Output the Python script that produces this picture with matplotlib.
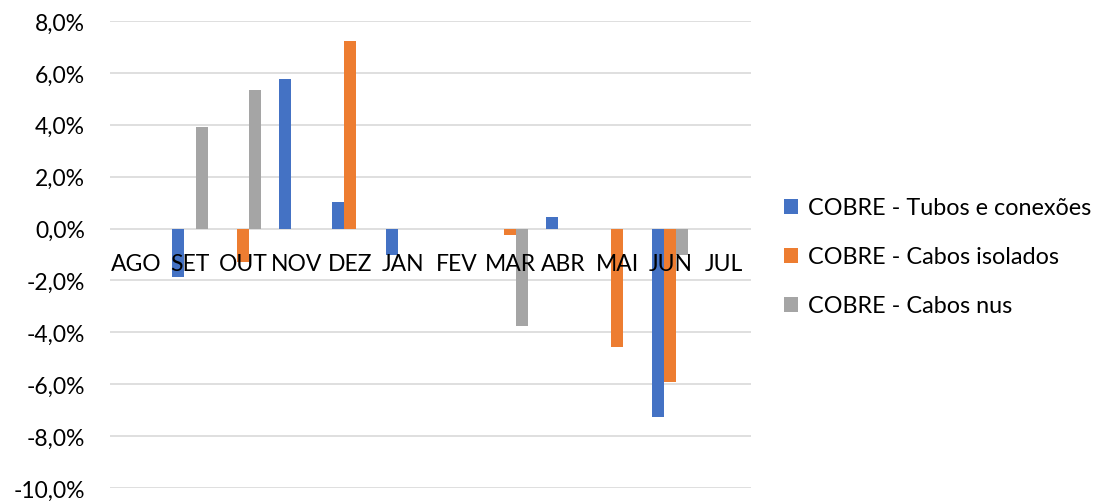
import matplotlib
matplotlib.use("Agg")
import matplotlib.pyplot as plt
import matplotlib.transforms as mtransforms
from matplotlib.ticker import FuncFormatter
import numpy as np

plt.rcParams['font.family'] = ['Lato', 'DejaVu Sans']

# Months (category labels)
months = ["AGO", "SET", "OUT", "NOV", "DEZ", "JAN", "FEV", "MAR", "ABR", "MAI", "JUN", "JUL"]

# Monthly variation (%) per series
tubos = [0.0, -1.87, 0.0, 5.77, 1.02, -1.0, 0.0, 0.0, 0.45, 0.0, -7.26, 0.0]
cabos_isolados = [0.0, 0.0, -1.3, 0.0, 7.23, 0.0, 0.0, -0.26, 0.0, -4.57, -5.93, 0.0]
cabos_nus = [0.0, 3.91, 5.36, 0.0, 0.0, 0.0, 0.0, -3.75, 0.0, 0.0, -1.0, 0.0]

series_names = ["COBRE - Tubos e conexões", "COBRE - Cabos isolados", "COBRE - Cabos nus"]
colors = ["#4472C4", "#ED7D31", "#A5A5A5"]

fig = plt.figure(figsize=(11.05, 5.02), dpi=100)
ax = fig.add_axes([0.0995, 0.026, 0.5797, 0.930])

x = np.arange(len(months))
w = 0.225
for k, (vals, name, col) in enumerate(zip([tubos, cabos_isolados, cabos_nus], series_names, colors)):
    ax.bar(x + (k - 1) * w, vals, width=w, color=col, label=name, zorder=2)

ax.set_xlim(-0.5, len(months) - 0.5)
ax.set_ylim(-10, 8)
ax.set_yticks(np.arange(-10, 9, 2))
ax.yaxis.set_major_formatter(FuncFormatter(lambda v, p: f"{v:.1f}%".replace(".", ",")))
ax.tick_params(axis='y', length=0, pad=18, labelsize=16.5, labelcolor="#000000")
ax.set_xticks([])
ax.grid(axis='y', color="#D9D9D9", linewidth=1.2, zorder=0)
ax.set_axisbelow(True)
for s in ax.spines.values():
    s.set_visible(False)

# Category labels sit next to the zero line (Excel style)
offset = mtransforms.offset_copy(ax.transData, fig=fig, x=0, y=-30, units='points')
for i, m in enumerate(months):
    ax.text(i, 0, m, transform=offset, ha='center', va='baseline', fontsize=16.5, zorder=5)

ax.legend(loc='center left', bbox_to_anchor=(1.02, 0.495), frameon=False, fontsize=16.8,
          handlelength=0.6, handleheight=0.6, handletextpad=0.4, labelspacing=1.2)

fig.savefig("out.png", dpi=100)
